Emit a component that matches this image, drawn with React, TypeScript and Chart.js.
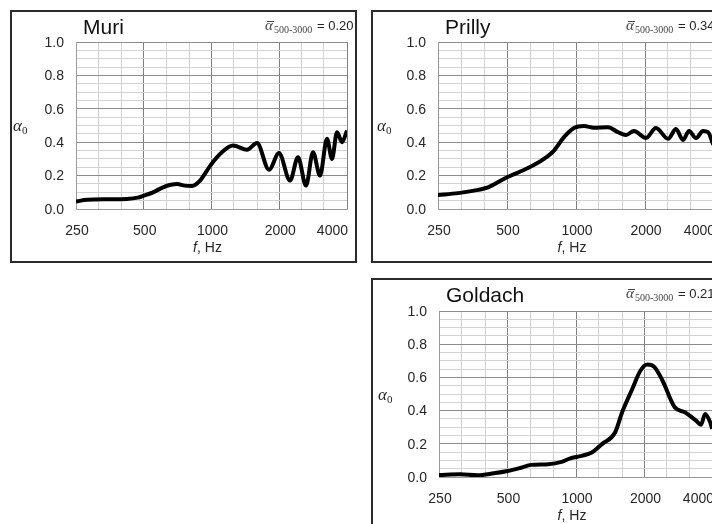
import React, { useEffect, useRef } from 'react';
import { Chart, registerables } from 'chart.js';
Chart.register(...registerables);

// ---- data ----
const xTickLabels = ['250', '500', '1000', '2000', '4000'];
const xMajorValues = [250, 500, 1000, 2000, 4000];
const xMinorValues = [315, 400, 630, 800, 1250, 1600, 2500, 3150];
const yTickLabels = ['0.0', '0.2', '0.4', '0.6', '0.8', '1.0'];
const yMajorValues = [0, 0.2, 0.4, 0.6, 0.8, 1.0];
const yMinorValues = [0.05, 0.1, 0.15, 0.25, 0.3, 0.35, 0.45, 0.5, 0.55, 0.65, 0.7, 0.75, 0.85, 0.9, 0.95];

const muriFreq = [250, 280, 350, 420, 470, 500, 550, 609, 660, 703, 760, 820, 889, 955, 1000, 1113, 1246, 1438, 1593, 1801, 1995, 2233, 2423, 2630, 2825, 3034, 3260, 3431, 3611, 3800, 4000];
const muriAlpha = [0.045, 0.055, 0.058, 0.06, 0.068, 0.08, 0.1, 0.13, 0.145, 0.15, 0.14, 0.138, 0.17, 0.23, 0.27, 0.34, 0.38, 0.355, 0.395, 0.235, 0.335, 0.17, 0.31, 0.14, 0.34, 0.2, 0.42, 0.3, 0.46, 0.4, 0.47];

const prillyFreq = [250, 306, 359, 413, 500, 617, 725, 802, 886, 980, 1084, 1198, 1379, 1525, 1652, 1790, 2020, 2233, 2520, 2731, 2930, 3112, 3338, 3582, 3766, 3962, 4000];
const prillyAlpha = [0.084, 0.095, 0.11, 0.13, 0.19, 0.245, 0.3, 0.35, 0.43, 0.485, 0.497, 0.487, 0.49, 0.46, 0.443, 0.467, 0.425, 0.485, 0.42, 0.479, 0.413, 0.467, 0.425, 0.467, 0.46, 0.39, 0.38];

const goldachFreq = [250, 310, 369, 435, 500, 573, 635, 755, 863, 937, 1059, 1173, 1300, 1485, 1595, 1767, 1918, 2060, 2213, 2402, 2716, 3009, 3368, 3545, 3693, 3887, 3967];
const goldachAlpha = [0.012, 0.016, 0.01, 0.022, 0.036, 0.056, 0.073, 0.077, 0.091, 0.111, 0.127, 0.147, 0.198, 0.268, 0.39, 0.53, 0.64, 0.677, 0.662, 0.58, 0.42, 0.39, 0.34, 0.315, 0.38, 0.33, 0.29];

const panelTitles = ['Muri', 'Prilly', 'Goldach'];
const panelMeans = ['= 0.20', '= 0.34', '= 0.21'];

// ---- layout ----
const panels = [
  { title: panelTitles[0], mean: panelMeans[0], freq: muriFreq, alpha: muriAlpha, left: 10, top: 10, w: 347, h: 253, pad: { left: 66, top: 32, right: 10, bottom: 54 }, yTitleX: 3 },
  { title: panelTitles[1], mean: panelMeans[1], freq: prillyFreq, alpha: prillyAlpha, left: 371, top: 10, w: 347, h: 253, pad: { left: 67, top: 32, right: 4, bottom: 54 }, yTitleX: 6 },
  { title: panelTitles[2], mean: panelMeans[2], freq: goldachFreq, alpha: goldachAlpha, left: 371, top: 278, w: 347, h: 253, pad: { left: 68, top: 33, right: 5, bottom: 54 }, yTitleX: 7 },
];

const SANS = "'Liberation Sans', Arial, sans-serif";
const SERIF = "'Liberation Serif', 'Times New Roman', serif";

function isMajorY(v: number) {
  return yMajorValues.some((m) => Math.abs(m - v) < 1e-6);
}

function Panel({ spec }: { spec: any }) {
  const ref = useRef<HTMLCanvasElement>(null);
  useEffect(() => {
    const canvas = ref.current!;
    const decor = {
      id: 'decor',
      afterDraw(chart: any) {
        const ctx = chart.ctx as CanvasRenderingContext2D;
        const ca = chart.chartArea;
        const xs = chart.scales.x;
        const ys = chart.scales.y;
        ctx.save();
        // panel border
        ctx.strokeStyle = '#2a2a2a';
        ctx.lineWidth = 2;
        ctx.strokeRect(1, 1, spec.w - 2, spec.h - 2);
        // y tick labels
        ctx.fillStyle = '#262626';
        ctx.font = `14px ${SANS}`;
        ctx.textAlign = 'right';
        ctx.textBaseline = 'middle';
        yMajorValues.forEach((v, i) => {
          ctx.fillText(yTickLabels[i], ca.left - 12, ys.getPixelForValue(v) + 1);
        });
        // x tick labels
        ctx.textBaseline = 'alphabetic';
        xMajorValues.forEach((v, i) => {
          const px = xs.getPixelForValue(v);
          if (i === xMajorValues.length - 1) {
            ctx.textAlign = 'right';
            ctx.fillText(xTickLabels[i], ca.right + 1, ca.bottom + 26);
          } else {
            ctx.textAlign = 'center';
            ctx.fillText(xTickLabels[i], px + 1, ca.bottom + 26);
          }
        });
        // x title "f, Hz"
        const cx = (ca.left + ca.right) / 2 - 4;
        ctx.font = `italic 14px ${SANS}`;
        const fW = ctx.measureText('f').width;
        ctx.font = `14px ${SANS}`;
        const restW = ctx.measureText(', Hz').width;
        const startX = cx - (fW + restW) / 2;
        ctx.textAlign = 'left';
        ctx.font = `italic 14px ${SANS}`;
        ctx.fillText('f', startX, ca.bottom + 43);
        ctx.font = `14px ${SANS}`;
        ctx.fillText(', Hz', startX + fW, ca.bottom + 43);
        // y title alpha_0
        ctx.font = `italic 17px ${SERIF}`;
        ctx.fillText('α', spec.yTitleX, ca.top + 89);
        const aW = ctx.measureText('α').width;
        ctx.font = `11px ${SERIF}`;
        ctx.fillText('0', spec.yTitleX + aW, ca.top + 92);
        // title
        ctx.font = `21px ${SANS}`;
        ctx.fillStyle = '#111';
        ctx.fillText(spec.title, ca.left + 7, 24);
        // mean annotation
        ctx.fillStyle = '#444';
        ctx.font = `italic 15px ${SERIF}`;
        ctx.fillText('α', 255, 20);
        ctx.strokeStyle = '#444';
        ctx.lineWidth = 1;
        ctx.beginPath();
        ctx.moveTo(257, 11.5);
        ctx.lineTo(264, 11.5);
        ctx.stroke();
        ctx.font = `10px ${SERIF}`;
        ctx.fillText('500-3000', 264, 23);
        ctx.fillStyle = '#222';
        ctx.font = `13px ${SANS}`;
        ctx.fillText(spec.mean, 307, 20);
        ctx.restore();
      },
    };
    const xGridValues = [...xMajorValues, ...xMinorValues].sort((a, b) => a - b);
    const yGridValues = [...yMajorValues, ...yMinorValues].sort((a, b) => a - b);
    const chart = new Chart(canvas, {
      type: 'line',
      data: {
        datasets: [
          {
            data: spec.freq.map((f: number, i: number) => ({ x: f, y: spec.alpha[i] })),
            borderColor: '#000',
            borderWidth: 4,
            pointRadius: 0,
            cubicInterpolationMode: 'monotone',
            fill: false,
          },
        ],
      },
      options: {
        animation: false,
        responsive: false,
        devicePixelRatio: 1,
        layout: { padding: spec.pad },
        plugins: { legend: { display: false }, tooltip: { enabled: false } },
        scales: {
          x: {
            type: 'logarithmic',
            min: 250,
            max: 4000,
            afterBuildTicks: (axis: any) => {
              axis.ticks = xGridValues.map((v) => ({ value: v }));
            },
            ticks: { display: false },
            grid: {
              drawTicks: false,
              color: (c: any) => (c.tick && xMajorValues.includes(c.tick.value) ? '#7f7f7f' : '#d2d2d2'),
              lineWidth: 1,
            },
            border: { display: true, color: '#9a9a9a', width: 1 },
          },
          y: {
            type: 'linear',
            min: 0,
            max: 1,
            afterBuildTicks: (axis: any) => {
              axis.ticks = yGridValues.map((v) => ({ value: v }));
            },
            ticks: { display: false },
            grid: {
              drawTicks: false,
              color: (c: any) => (c.tick && isMajorY(c.tick.value) ? '#8c8c8c' : '#d2d2d2'),
              lineWidth: 1,
            },
            border: { display: true, color: '#9a9a9a', width: 1 },
          },
        },
      },
      plugins: [decor],
    } as any);
    return () => chart.destroy();
  }, []);
  return (
    <canvas
      ref={ref}
      width={spec.w}
      height={spec.h}
      style={{ position: 'absolute', left: spec.left, top: spec.top, width: spec.w, height: spec.h }}
    />
  );
}

export default function App() {
  return (
    <div style={{ position: 'fixed', left: 0, top: 0, width: 712, height: 524, overflow: 'hidden', background: '#fff' }}>
      {panels.map((p, i) => (
        <Panel key={i} spec={p} />
      ))}
    </div>
  );
}
